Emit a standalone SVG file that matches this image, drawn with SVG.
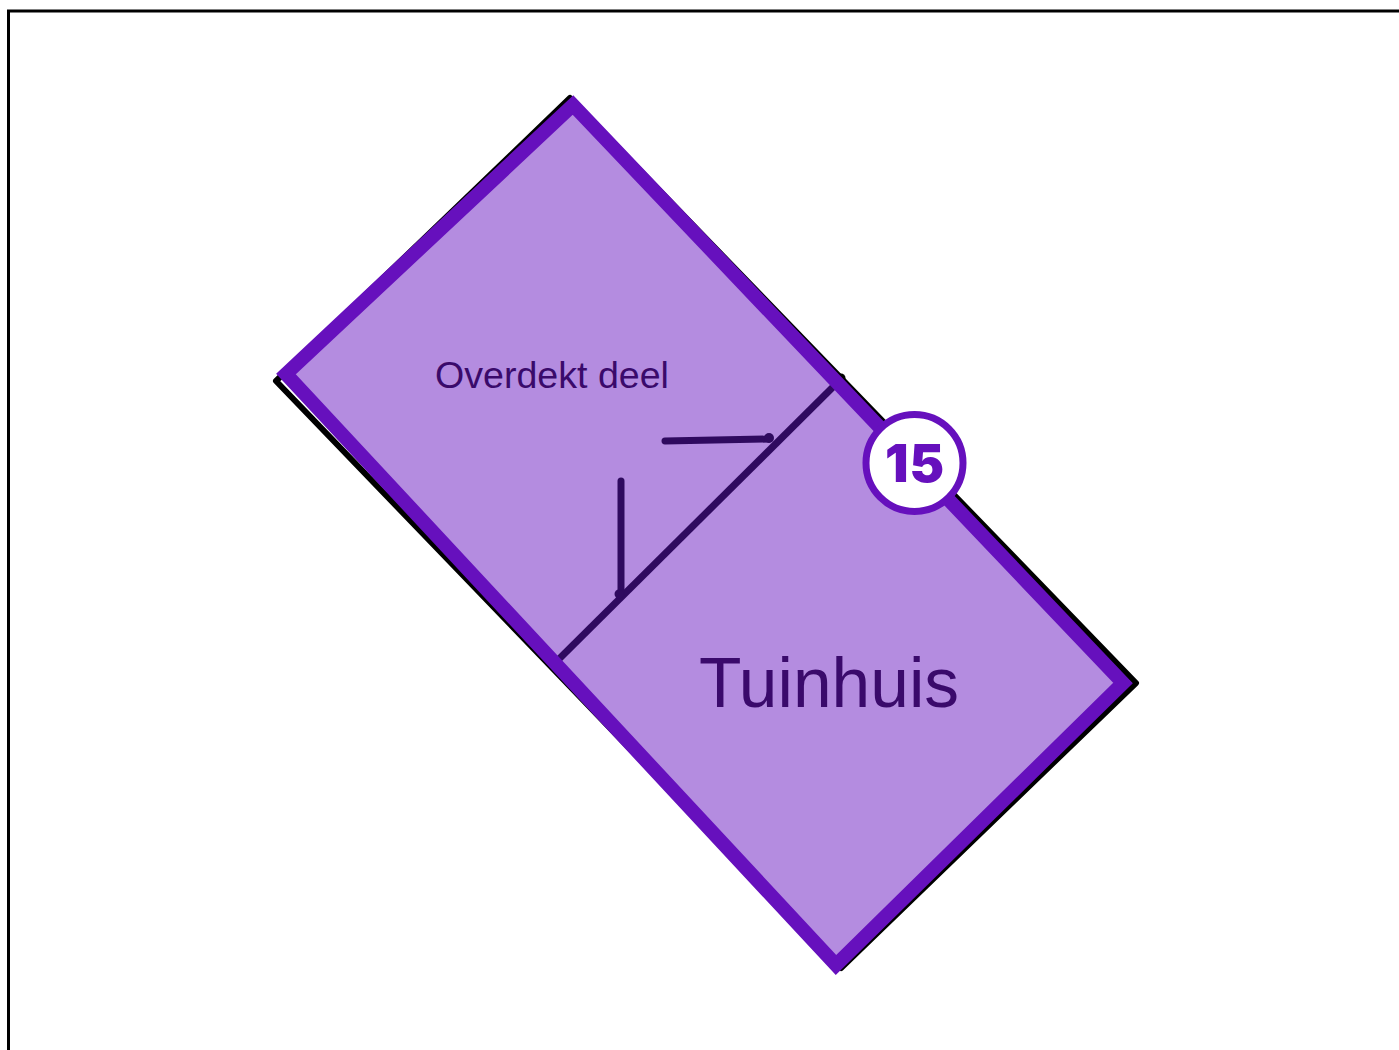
<svg xmlns="http://www.w3.org/2000/svg" width="1399" height="1050" viewBox="0 0 1399 1050">
<style>
.wall{fill:none;stroke:#2f0a5f;stroke-width:7;stroke-linecap:round}
.lbl{font-family:"Liberation Sans",Arial,sans-serif;fill:#3a0a6b}
.edge{stroke:#6610bd;stroke-width:14;stroke-miterlimit:10}
</style>
<defs><filter id="soft" x="-5%" y="-5%" width="110%" height="110%"><feGaussianBlur stdDeviation="0.7"/></filter></defs>
<rect width="1399" height="1050" fill="#fff"/>
<path d="M8.500 1050V11H1399" fill="none" stroke="#000" stroke-width="3"/>
<polygon id="shadow" points="570,98 276,381 841,968 1136,683" fill="#fff" stroke="#000" stroke-width="6" stroke-linejoin="round" filter="url(#soft)"/>
<polygon id="tuinhuis-area" points="573,105 286,374 836,965 1123,683" fill="#b48ce0"/>
<g id="walls">
<path class="wall" d="M557 661L835 385" style="stroke-linecap:butt"/>
<path class="wall" d="M665 441L769 439"/>
<path class="wall" d="M621 481V594"/>
<circle cx="769" cy="438" r="5" fill="#2f0a5f"/>
<circle cx="619" cy="594" r="4.500" fill="#2f0a5f"/>
<circle cx="841" cy="378" r="4.500" fill="#000"/>
</g>
<polygon class="edge" points="573,105 286,374 836,965 1123,683" fill="none"/>
<text class="lbl" x="435" y="388" font-size="37.600">Overdekt deel</text>
<text class="lbl" x="699" y="707" font-size="69.500">Tuinhuis</text>
<g id="badge-15">
<circle cx="914.500" cy="463" r="48.500" fill="#fff" stroke="#6610bd" stroke-width="7"/>
<text x="915" y="482" text-anchor="middle" font-family="Inter,'Open Sans',sans-serif" font-weight="900" font-size="52" letter-spacing="1" fill="#6610bd">15</text>
</g>
</svg>
